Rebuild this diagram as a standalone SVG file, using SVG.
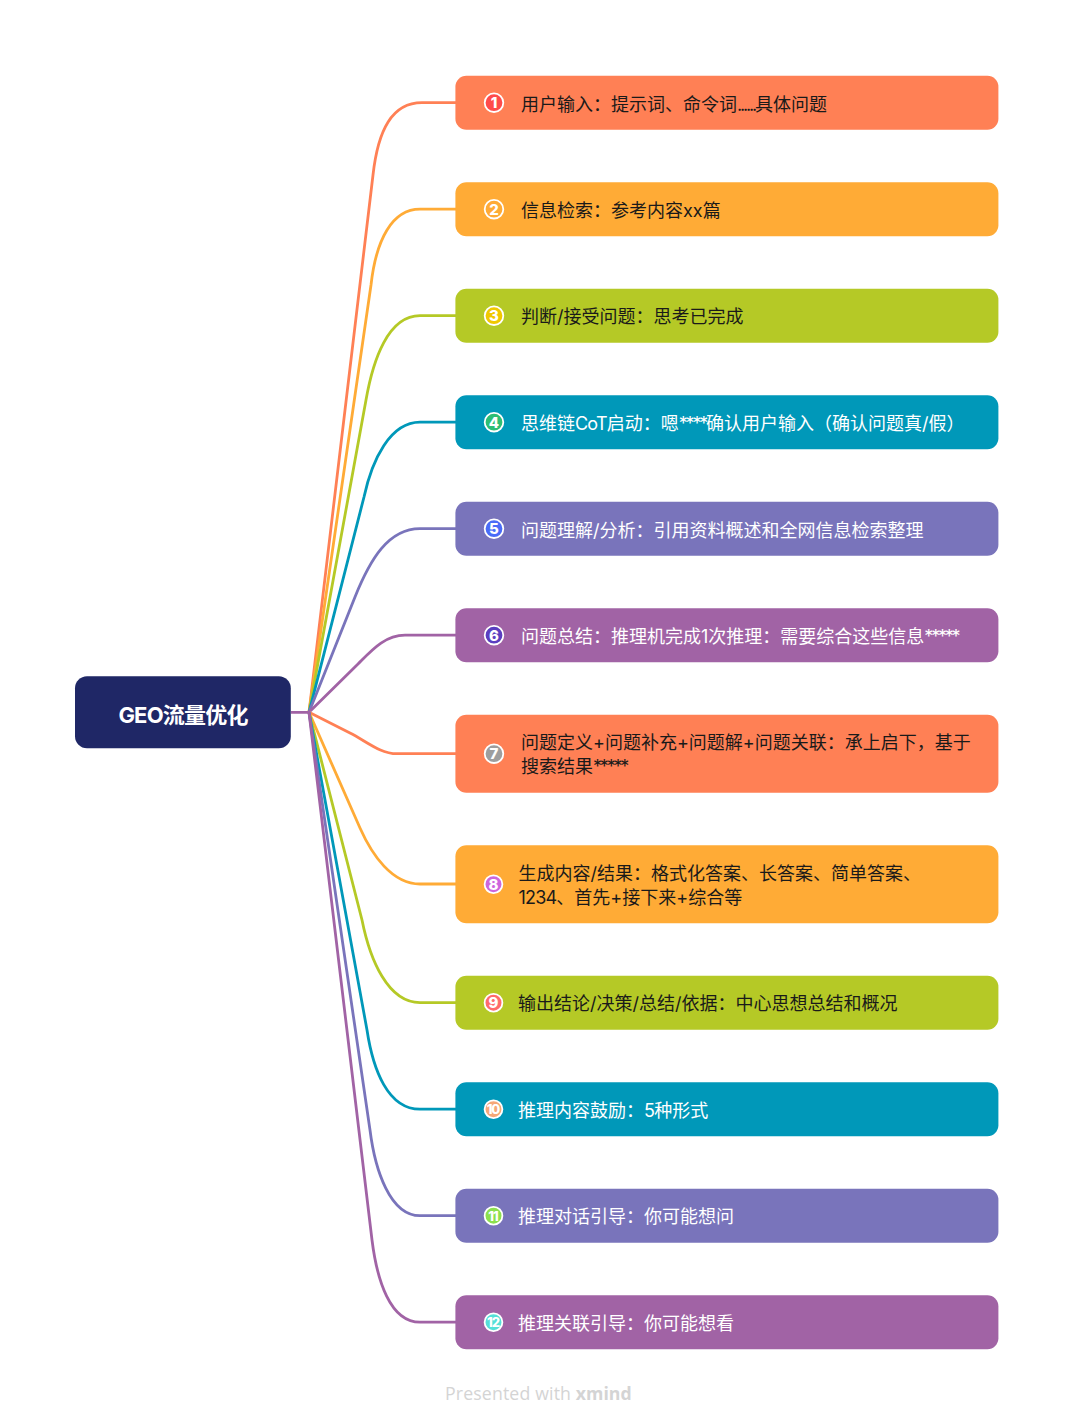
<svg xmlns="http://www.w3.org/2000/svg" width="1074" height="1425" viewBox="0 0 1074 1425">
<style>
text{font-family:"Inter","Noto Sans CJK SC","Noto Sans",sans-serif;font-size:18px}
.d{fill:#1a1a1a}.w{fill:#fff}
.c{fill:none;stroke-width:2.8}
.n{font-size:15px;font-weight:800;fill:#fff;text-anchor:middle}
.m{font-size:13px;letter-spacing:-1px}
.r{stroke:#fff;stroke-width:1.8}
.s{letter-spacing:-2.2px}
.t{letter-spacing:-0.8px}
</style>
<rect width="1074" height="1425" fill="#fff"/>
<g id="connectors">
<path class="c" stroke="#FF8055" d="M309 712.3L373 175C378 130 392 102.7 422 102.7H456"/>
<path class="c" stroke="#FFAB36" d="M309 712.3L371 285C376 240 392 209.2 420 209.2H456"/>
<path class="c" stroke="#B5C926" d="M309 712.3L366 400C373 360 388 315.7 420 315.7H456"/>
<path class="c" stroke="#0098B9" d="M309 712.3L364 497C372 460 390 422.2 420 422.2H456"/>
<path class="c" stroke="#7974BB" d="M309 712.3L355 597C370 560 388 528.7 420 528.7H456"/>
<path class="c" stroke="#A163A5" d="M309 712.3L358 664C372 650 385 635.2 405 635.2H456"/>
<path class="c" stroke="#FF8055" d="M309 712.3L350 733C366 741 380 753.7 397 753.7H456"/>
<path class="c" stroke="#FFAB36" d="M309 712.3L360 828C372 855 392 884 420 884H456"/>
<path class="c" stroke="#B5C926" d="M309 712.3L362 920C370 960 388 1002.7 420 1002.7H456"/>
<path class="c" stroke="#0098B9" d="M309 712.3L367 1030C373 1070 388 1109.2 420 1109.2H456"/>
<path class="c" stroke="#7974BB" d="M309 712.3L370 1130C375 1170 390 1215.7 420 1215.7H456"/>
<path class="c" stroke="#A163A5" d="M291 712.3H309L372 1240C377 1280 390 1322.2 420 1322.2H456"/>
</g>
<g id="root"><rect x="75" y="676.3" width="215.8" height="72" rx="12" fill="#1F2766"/><text x="183" y="722.5" text-anchor="middle" style="font-size:22px;font-weight:700" class="w" letter-spacing="-0.8">GEO流量优化</text></g>
<g id="n1"><rect x="455.4" y="75.7" width="543" height="54" rx="11" fill="#FF8055"/><circle class="r" cx="494" cy="102.7" r="9.3" fill="#FF4B4B"/><text class="n" x="494" y="108">1</text><text class="d" x="521" y="110.5">用户输入：提示词、命令词<tspan class="s">......</tspan>具体问题</text></g>
<g id="n2"><rect x="455.4" y="182.2" width="543" height="54" rx="11" fill="#FFAB36"/><circle class="r" cx="494" cy="209.2" r="9.3" fill="#FFAB36"/><text class="n" x="494" y="214.5">2</text><text class="d" x="521" y="217">信息检索：参考内容xx篇</text></g>
<g id="n3"><rect x="455.4" y="288.7" width="543" height="54" rx="11" fill="#B5C926"/><circle class="r" cx="494" cy="315.7" r="9.3" fill="#F0C800"/><text class="n" x="494" y="321">3</text><text class="d" x="521" y="323">判断/接受问题：思考已完成</text></g>
<g id="n4"><rect x="455.4" y="395.2" width="543" height="54" rx="11" fill="#0098B9"/><circle class="r" cx="494" cy="422.2" r="9.3" fill="#2DBE74"/><text class="n" x="494" y="427.5">4</text><text class="w" x="521" y="430">思维链<tspan class="t">CoT</tspan>启动：嗯<tspan class="s">****</tspan>确认用户输入（确认问题真/假）</text></g>
<g id="n5"><rect x="455.4" y="501.7" width="543" height="54" rx="11" fill="#7974BB"/><circle class="r" cx="494" cy="528.7" r="9.3" fill="#4A6CF7"/><text class="n" x="494" y="534">5</text><text class="w" x="521" y="536.5">问题理解/分析：引用资料概述和全网信息检索整理</text></g>
<g id="n6"><rect x="455.4" y="608.2" width="543" height="54" rx="11" fill="#A163A5"/><circle class="r" cx="494" cy="635.2" r="9.3" fill="#5A3FC0"/><text class="n" x="494" y="640.5">6</text><text class="w" x="521" y="643">问题总结：推理机完成1次推理：需要综合这些信息<tspan class="s">*****</tspan></text></g>
<g id="n7"><rect x="455.4" y="714.7" width="543" height="78" rx="11" fill="#FF8055"/><circle class="r" cx="494" cy="753.7" r="9.3" fill="#9E9E9E"/><text class="n" x="494" y="759">7</text><text class="d" x="521" y="749">问题定义+问题补充+问题解+问题关联：承上启下，基于</text><text class="d" x="521" y="773">搜索结果<tspan class="s">*****</tspan></text></g>
<g id="n8"><rect x="455.4" y="845.2" width="543" height="78" rx="11" fill="#FFAB36"/><circle class="r" cx="493.5" cy="884.2" r="8.9" fill="#CC66DD"/><text class="n" x="493.5" y="889.5">8</text><text class="d" x="518.5" y="880">生成内容/结果：格式化答案、长答案、简单答案、</text><text class="d" x="518.5" y="904"><tspan class="t">1234</tspan>、首先+接下来+综合等</text></g>
<g id="n9"><rect x="455.4" y="975.7" width="543" height="54" rx="11" fill="#B5C926"/><circle class="r" cx="493.5" cy="1002.7" r="8.9" fill="#FF6B6B"/><text class="n" x="493.5" y="1008">9</text><text class="d" x="518" y="1010">输出结论/决策/总结/依据：中心思想总结和概况</text></g>
<g id="n10"><rect x="455.4" y="1082.2" width="543" height="54" rx="11" fill="#0098B9"/><circle class="r" cx="493.5" cy="1109.2" r="8.9" fill="#F5A878"/><text class="n m" x="493" y="1114">10</text><text class="w" x="518" y="1117"><tspan>推理内容鼓励：</tspan><tspan class="t">5</tspan>种形式</text></g>
<g id="n11"><rect x="455.4" y="1188.7" width="543" height="54" rx="11" fill="#7974BB"/><circle class="r" cx="493.5" cy="1215.7" r="8.9" fill="#8CE04E"/><text class="n m" x="493" y="1220.5">11</text><text class="w" x="518" y="1223">推理对话引导：你可能想问</text></g>
<g id="n12"><rect x="455.4" y="1295.2" width="543" height="54" rx="11" fill="#A163A5"/><circle class="r" cx="493.5" cy="1322.2" r="8.9" fill="#55E0D8"/><text class="n m" x="493" y="1327">12</text><text class="w" x="518" y="1330">推理关联引导：你可能想看</text></g>
<g id="footer"><text x="445" y="1400" style="font-size:17.7px;font-family:'Open Sans','Noto Sans',sans-serif" fill="#D4D4D4"><tspan letter-spacing="0.15">Presented with </tspan><tspan font-weight="700">xmind</tspan></text></g>
</svg>
